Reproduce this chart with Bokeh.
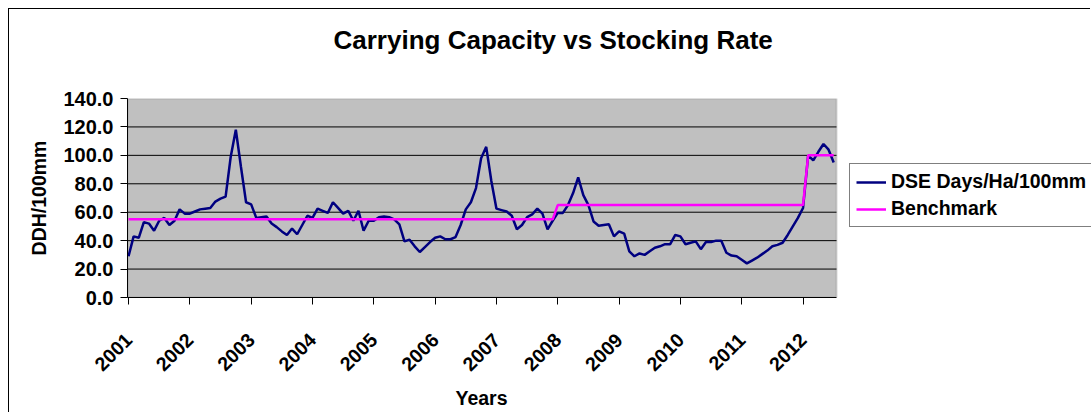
import math
from bokeh.plotting import figure
from bokeh.models import (Range1d, FixedTicker, PrintfTickFormatter, Legend, LegendItem,
                          Title, BoxAnnotation)
from bokeh.embed import file_html
from bokeh.resources import INLINE

# monthly index, Jan 2001 .. Jul 2012
months = list(range(139))

dse = [
    29, 43, 42, 53, 52, 47, 54, 56, 51, 54, 62, 59,          # 2001
    59, 60.5, 62, 62.5, 63, 67.5, 69.5, 71, 99, 118, 92, 67,  # 2002
    65.5, 56, 56.5, 57, 52, 49.5, 46.5, 44, 48.5, 44.5, 51, 57.5,  # 2003
    56, 62.5, 61, 59.5, 67, 63, 59, 61, 54, 61, 47, 54,      # 2004
    54, 56.5, 57, 56.5, 55, 51.5, 39.5, 40.7, 36, 32, 35.5, 39,  # 2005
    42, 43, 41, 41, 42.5, 51, 62, 67, 77, 98, 106, 82,       # 2006
    62.5, 61.5, 60.5, 57.5, 48, 51, 56.5, 58.5, 62.5, 59, 48, 54,  # 2007
    59.5, 59.5, 65, 73.5, 84.5, 72, 65, 53.5, 50.5, 51, 51.5, 43,  # 2008
    46.5, 45, 32.5, 29, 31, 30, 32.5, 35, 36, 37.5, 37.5, 44,  # 2009
    43, 37.5, 38.5, 39.5, 34, 39, 39, 40, 40, 31.5, 29.5, 29,  # 2010
    26.5, 24, 26, 28, 30.5, 33, 36, 37, 38.5, 44, 50, 56,    # 2011
    63, 100, 96.5, 102.5, 108, 104, 95,                      # 2012
]

benchmark = [
    55, 55, 55, 55, 55, 55, 55, 55, 55, 55, 55, 55,
    55, 55, 55, 55, 55, 55, 55, 55, 55, 55, 55, 55,
    55, 55, 55, 55, 55, 55, 55, 55, 55, 55, 55, 55,
    55, 55, 55, 55, 55, 55, 55, 55, 55, 55, 55, 55,
    55, 55, 55, 55, 55, 55, 55, 55, 55, 55, 55, 55,
    55, 55, 55, 55, 55, 55, 55, 55, 55, 55, 55, 55,
    55, 55, 55, 55, 55, 55, 55, 55, 55, 55, 55, 55,
    65, 65, 65, 65, 65, 65, 65, 65, 65, 65, 65, 65,
    65, 65, 65, 65, 65, 65, 65, 65, 65, 65, 65, 65,
    65, 65, 65, 65, 65, 65, 65, 65, 65, 65, 65, 65,
    65, 65, 65, 65, 65, 65, 65, 65, 65, 65, 65, 65,
    65, 100, 100, 100, 100, 100, 100,
]

year_ticks = [0, 12, 24, 36, 48, 60, 72, 84, 96, 108, 120, 132]
year_labels = ["2001", "2002", "2003", "2004", "2005", "2006",
               "2007", "2008", "2009", "2010", "2011", "2012"]
y_ticks = [0, 20, 40, 60, 80, 100, 120, 140]
grid_ticks = [20, 40, 60, 80, 100, 120]

# extent of the chart's category axis (months)
X_START, X_END = -0.2, 138.55
PX_PER_MONTH = 5.11

FONT = "Liberation Sans"

W, H = 1082, 404
LEFT, TOP, BOTTOM = 118, 89, 115
frame_w = W - LEFT
p = figure(width=W, height=H, output_backend="svg", toolbar_location=None,
           x_range=Range1d(X_START, X_START + frame_w / PX_PER_MONTH),
           y_range=Range1d(0, 140),
           min_border_left=LEFT, min_border_right=0,
           min_border_top=TOP, min_border_bottom=BOTTOM)
p.styles = {"margin-left": "8px", "margin-top": "8px",
            "border-left": "1px solid black", "border-top": "1px solid black"}

p.background_fill_color = "white"
p.border_fill_color = "white"
p.outline_line_color = None

# grey plot area
plot_area = BoxAnnotation(right=X_END, fill_color="#C0C0C0", fill_alpha=1,
                          line_color="#808080", line_width=2, level="underlay")
p.add_layout(plot_area)

p.title.text = "Carrying Capacity vs Stocking Rate"
p.title.align = "left"
p.title.offset = 206
p.title.standoff = 20
p.title.text_font = FONT
p.title.text_font_size = "26px"
p.title.text_font_style = "bold"
p.title.text_color = "black"
# blank spacer between the title and the plot area
p.add_layout(Title(text=" ", text_font_size="20px", standoff=10), "above")

# axes
p.xaxis.ticker = FixedTicker(ticks=year_ticks)
p.xaxis.major_label_overrides = {t: l for t, l in zip(year_ticks, year_labels)}
p.xaxis.major_label_orientation = math.pi / 4
p.xaxis.bounds = (X_START, X_END)
p.yaxis.ticker = FixedTicker(ticks=y_ticks)
p.yaxis.formatter = PrintfTickFormatter(format="%.1f")
p.yaxis.axis_label = "DDH/100mm"
for ax in (p.xaxis[0], p.yaxis[0]):
    ax.axis_line_color = "black"
    ax.axis_line_width = 1
    ax.major_tick_line_color = "black"
    ax.major_tick_out = 7
    ax.major_tick_in = 0
    ax.minor_tick_out = 0
    ax.minor_tick_in = 0
    ax.major_label_text_font = FONT
    ax.major_label_text_font_size = "19.5px"
    ax.major_label_text_font_style = "bold"
    ax.major_label_text_color = "black"
    ax.axis_label_text_font = FONT
    ax.axis_label_text_font_size = "19.5px"
    ax.axis_label_text_font_style = "bold"
    ax.axis_label_text_color = "black"
p.yaxis.major_label_text_font_size = "20px"
p.yaxis.major_label_standoff = 7
p.yaxis.axis_label_standoff = 10
p.xaxis.major_label_standoff = 32

# x axis title, centred under the grey plot area
x_title = Title(text="Years", align="left", offset=328, standoff=9,
                text_font=FONT, text_font_size="19.5px", text_font_style="bold",
                text_color="black")
p.add_layout(x_title, "below")

# horizontal gridlines across the grey plot area only
p.xgrid.visible = False
p.ygrid.visible = False
p.segment(x0=[X_START] * len(grid_ticks), x1=[X_END] * len(grid_ticks),
          y0=grid_ticks, y1=grid_ticks, line_color="black", line_width=1)

r1 = p.line(months, dse, line_color="#000080", line_width=2.5)
r2 = p.line(months, benchmark, line_color="#FF00FF", line_width=2.5)

legend = Legend(items=[LegendItem(label="DSE Days/Ha/100mm", renderers=[r1]),
                       LegendItem(label="Benchmark", renderers=[r2])],
                location=(722, 70), orientation="vertical")
legend.label_text_font = FONT
legend.label_text_font_size = "19.5px"
legend.label_text_font_style = "bold"
legend.label_text_color = "black"
legend.border_line_color = "black"
legend.border_line_width = 1
legend.background_fill_color = "white"
legend.background_fill_alpha = 1
legend.padding = 6
legend.spacing = 4
legend.margin = 0
legend.glyph_width = 30
legend.glyph_height = 20
legend.label_height = 20
legend.label_standoff = 5
p.add_layout(legend, "center")

open("out.html", "w").write(file_html(p, INLINE))
